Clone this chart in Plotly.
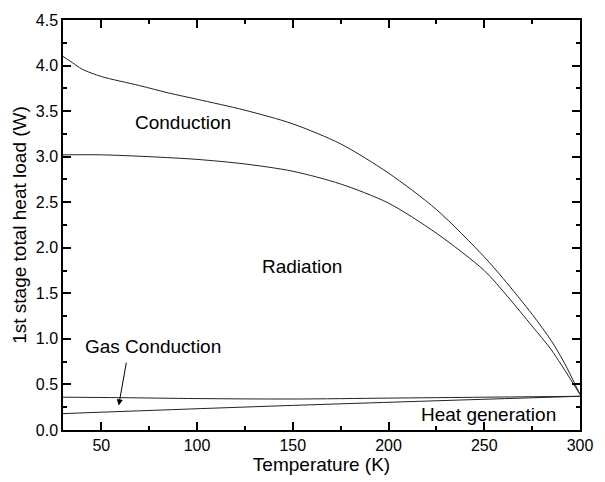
import plotly.graph_objects as go

# Total (conduction + radiation + gas + heat gen) curve
temp_total = [30, 35, 40, 50, 70, 85, 100, 125, 150, 175, 200, 225, 250, 260, 275, 285, 292, 300]
load_total = [4.10, 4.03, 3.96, 3.88, 3.78, 3.70, 3.63, 3.51, 3.36, 3.14, 2.82, 2.42, 1.90, 1.66, 1.27, 0.98, 0.73, 0.39]

# Radiation + gas + heat gen curve
temp_rad = [30, 50, 75, 100, 125, 150, 175, 200, 225, 250, 262, 275, 285, 300]
load_rad = [3.02, 3.02, 3.00, 2.97, 2.92, 2.84, 2.70, 2.49, 2.16, 1.75, 1.47, 1.14, 0.88, 0.39]

# Gas conduction + heat generation
temp_gas = [30, 60, 100, 150, 200, 250, 300]
load_gas = [0.36, 0.355, 0.345, 0.34, 0.35, 0.36, 0.37]

# Heat generation
temp_gen = [30, 150, 300]
load_gen = [0.18, 0.27, 0.37]

x_ticks = [50, 100, 150, 200, 250, 300]
y_ticks = [0.0, 0.5, 1.0, 1.5, 2.0, 2.5, 3.0, 3.5, 4.0, 4.5]

fig = go.Figure()
for xs, ys in [(temp_total, load_total), (temp_rad, load_rad), (temp_gas, load_gas), (temp_gen, load_gen)]:
    fig.add_trace(go.Scatter(x=xs, y=ys, mode="lines",
                             line=dict(color="#222222", width=1, shape="spline", smoothing=0.8),
                             showlegend=False, hoverinfo="skip"))

font_family = "Liberation Sans, Arial, sans-serif"
axis_common = dict(
    showline=True, linecolor="black", linewidth=1.5, mirror="allticks",
    ticks="inside", ticklen=8, tickwidth=1.5, tickcolor="black",
    showgrid=False, zeroline=False,
    tickfont=dict(family=font_family, size=16, color="black"),
)

fig.update_xaxes(range=[30, 300], tickvals=x_ticks, ticktext=[str(v) for v in x_ticks],
                 title=dict(text="Temperature (K)", font=dict(family=font_family, size=19, color="black"), standoff=2),
                 minor=dict(ticks="inside", ticklen=4, tickwidth=1.5, tickcolor="black", dtick=25, tick0=25),
                 **axis_common)
fig.update_yaxes(range=[0, 4.5], tickvals=y_ticks, ticktext=[f"{v:.1f}" for v in y_ticks],
                 title=dict(text="1st stage total heat load (W)", font=dict(family=font_family, size=19, color="black"), standoff=4),
                 minor=dict(ticks="inside", ticklen=4, tickwidth=1.5, tickcolor="black", dtick=0.25, tick0=0.25),
                 **axis_common)

ann_font = dict(family=font_family, size=19, color="black")
fig.add_annotation(x=92.8, y=3.37, text="Conduction", showarrow=False, font=ann_font)
fig.add_annotation(x=154.6, y=1.79, text="Radiation", showarrow=False, font=ann_font)
fig.add_annotation(x=77, y=0.92, text="Gas Conduction", showarrow=False, font=ann_font)
fig.add_annotation(x=252, y=0.17, text="Heat generation", showarrow=False, font=ann_font)
fig.add_annotation(x=59.1, y=0.27, ax=63.2, ay=0.755, axref="x", ayref="y", text="",
                   showarrow=True, arrowhead=2, arrowsize=1.2, arrowwidth=1, arrowcolor="black")

fig.update_layout(
    width=605, height=482,
    margin=dict(l=63, r=13, t=13, b=52),
    paper_bgcolor="white", plot_bgcolor="white",
    font=dict(family=font_family, color="black"),
)

fig.write_html("out.html")
